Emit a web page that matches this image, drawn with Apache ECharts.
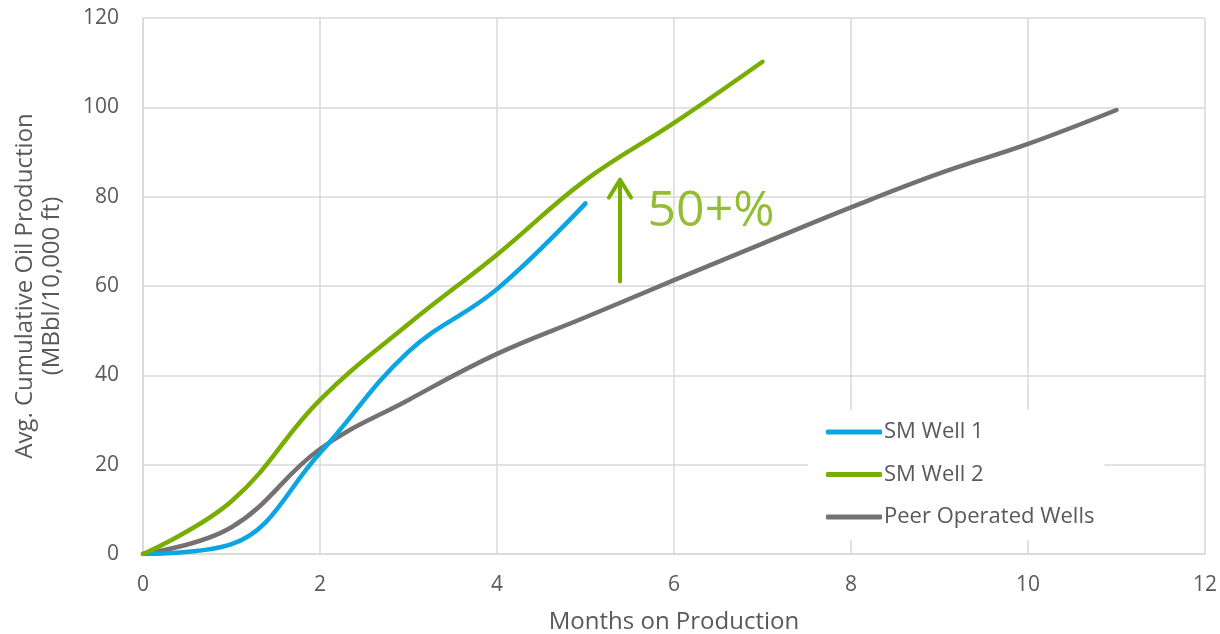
<!DOCTYPE html>
<html>
<head>
<meta charset="utf-8">
<script src="https://cdn.jsdelivr.net/npm/echarts@6/dist/echarts.min.js"></script>
<style>html,body{margin:0;padding:0;background:#fff}#c{width:1220px;height:634px}</style>
</head>
<body>
<div id="c"></div>
<script>
const months = [0,1,2,3,4,5,6,7,8,9,10,11];
const smWell1 = [0, 2.2, 22.6, 45.3, 59.3, 78.5];
const smWell2 = [0, 11.8, 34.5, 51.5, 67.0, 83.7, 96.5, 110.2];
const peerWells = [0, 6.0, 23.5, 34.5, 44.8, 53.0, 61.3, 69.5, 77.6, 85.2, 91.8, 99.4];
const xTicks = [0,2,4,6,8,10,12];
const yTicks = [0,20,40,60,80,100,120];
const arrowShaft = [[5.39,61],[5.39,83.8],[5.265,79.8],[5.39,83.8],[5.515,79.8]];
const annotation = {x:5.7, y:76.7, text:'50+%'};

const FONT = '"Open Sans", Lato, sans-serif';
const toPairs = arr => arr.map((v,i)=>[months[i], v]);

const chart = echarts.init(document.getElementById('c'), null, {renderer:'canvas'});
chart.setOption({
  animation:false,
  backgroundColor:'#fff',
  grid:{left:143, right:15, top:18, bottom:80, containLabel:false, outerBoundsMode:'none'},
  xAxis:{
    type:'value', min:xTicks[0], max:xTicks[xTicks.length-1], interval:2,
    name:'Months on Production', nameLocation:'middle', nameGap:56,
    nameTextStyle:{fontFamily:FONT, fontSize:24, color:'#595959'},
    axisLine:{show:true, lineStyle:{color:'#d9d9d9', width:1.5}},
    axisTick:{show:false},
    axisLabel:{fontFamily:FONT, fontSize:21, color:'#595959', margin:21},
    splitLine:{show:true, lineStyle:{color:'#d9d9d9', width:1.5}}
  },
  yAxis:{
    type:'value', min:yTicks[0], max:yTicks[yTicks.length-1], interval:20,
    name:'Avg. Cumulative Oil Production\n(MBbl/10,000 ft)', nameLocation:'middle', nameGap:77,
    nameTextStyle:{fontFamily:FONT, fontSize:24, color:'#595959', lineHeight:27, align:'center'},
    axisLine:{show:true, lineStyle:{color:'#d9d9d9', width:1.5}},
    axisTick:{show:false},
    axisLabel:{fontFamily:FONT, fontSize:21, color:'#595959', margin:24},
    splitLine:{show:true, lineStyle:{color:'#d9d9d9', width:1.5}}
  },
  legend:{
    data:['SM Well 1','SM Well 2','Peer Operated Wells'],
    orient:'vertical', left:808, top:410,
    padding:[11,10,12,18],
    backgroundColor:'#ffffff',
    itemWidth:56, itemHeight:5, itemGap:20.5, icon:'roundRect',
    textStyle:{fontFamily:FONT, fontSize:22, color:'#595959', lineHeight:22, padding:[0,0,0,-3]}
  },
  series:[
    {name:'SM Well 1', type:'line', data:toPairs(smWell1), smooth:0.4, showSymbol:false, symbol:'none',
     lineStyle:{color:'#0AA5E2', width:4.5, cap:'round'}, itemStyle:{color:'#0AA5E2'}, z:3},
    {name:'SM Well 2', type:'line', data:toPairs(smWell2), smooth:0.4, showSymbol:false, symbol:'none',
     lineStyle:{color:'#78AE00', width:4.5, cap:'round'}, itemStyle:{color:'#78AE00'}, z:3},
    {name:'Peer Operated Wells', type:'line', data:toPairs(peerWells), smooth:0.4, showSymbol:false, symbol:'none',
     lineStyle:{color:'#767171', width:4.5, cap:'round'}, itemStyle:{color:'#767171'}, z:2},
    {name:'arrow', type:'line', data:arrowShaft, smooth:false, showSymbol:false, symbol:'none',
     lineStyle:{color:'#78AE00', width:4, cap:'round', join:'round'}, z:4, silent:true},
    {name:'annot', type:'scatter', data:[[annotation.x, annotation.y]], symbolSize:0, silent:true,
     label:{show:true, position:'right', distance:0, formatter:annotation.text,
       fontFamily:FONT, fontSize:50, color:'#78AE00'}}
  ]
});
</script>
</body>
</html>
